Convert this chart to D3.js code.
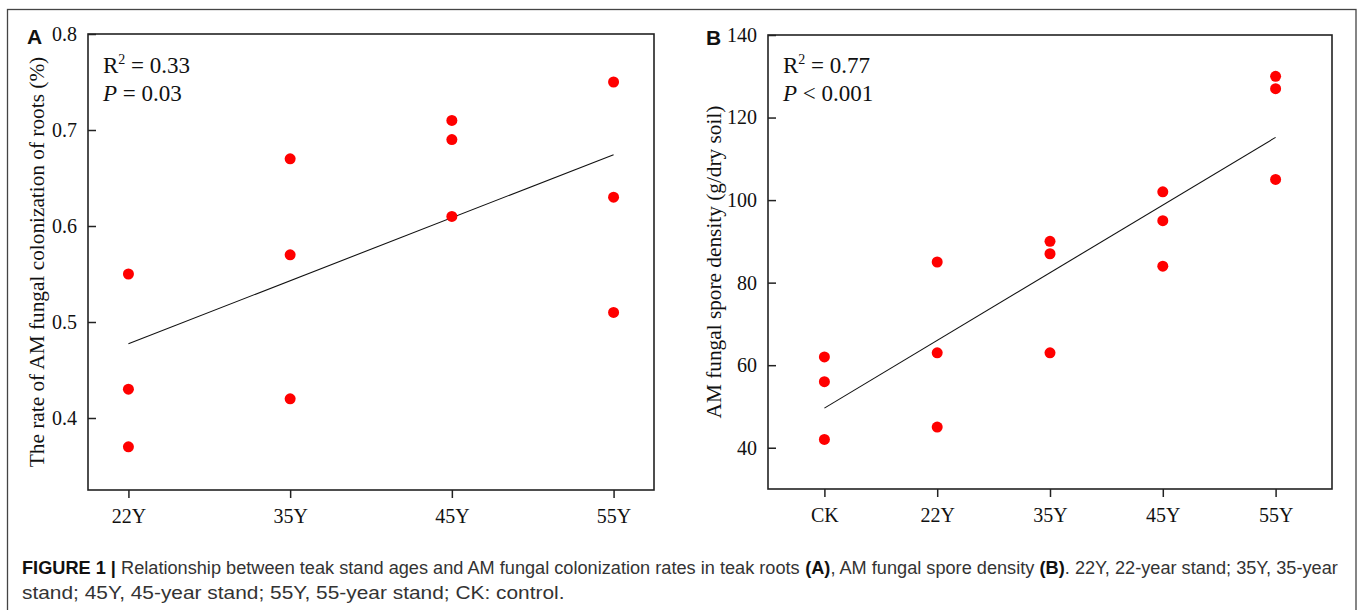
<!DOCTYPE html>
<html>
<head>
<meta charset="utf-8">
<script src="https://cdn.jsdelivr.net/npm/d3@7"></script>
<style>
  html, body { margin: 0; padding: 0; background: #fff; }
  svg { display: block; }
</style>
</head>
<body>
<svg id="chart" width="1357" height="610"></svg>
<script>
// ---- Data ----
const catsA = ["22Y", "35Y", "45Y", "55Y"];
const valsA = [[0.55, 0.43, 0.37], [0.67, 0.57, 0.42], [0.71, 0.69, 0.61], [0.75, 0.63, 0.51]];
const yTicksA = [0.4, 0.5, 0.6, 0.7, 0.8];
const statsA = ["0.33", "= 0.03"];
const titleA = "The rate of AM fungal colonization of roots (%)";

const catsB = ["CK", "22Y", "35Y", "45Y", "55Y"];
const valsB = [[62, 56, 42], [85, 63, 45], [90, 87, 63], [102, 95, 84], [130, 127, 105]];
const yTicksB = [40, 60, 80, 100, 120, 140];
const statsB = ["0.77", "< 0.001"];
const titleB = "AM fungal spore density (g/dry soil)";

const captionLine1 = [
  {t: "FIGURE 1 | ", b: true},
  {t: "Relationship between teak stand ages and AM fungal colonization rates in teak roots ", b: false},
  {t: "(A)", b: true},
  {t: ", AM fungal spore density ", b: false},
  {t: "(B)", b: true},
  {t: ". 22Y, 22-year stand; 35Y, 35-year", b: false}
];
const captionLine2 = [{t: "stand; 45Y, 45-year stand; 55Y, 55-year stand; CK: control.", b: false}];

// ---- Drawing ----
const svg = d3.select("#chart");
const serif = "'Liberation Serif', 'Times New Roman', serif";
const sans = "'Liberation Sans Narrow', 'Arial Narrow', 'Liberation Sans', Arial, sans-serif";

// outer frame
svg.append("rect").attr("x", 7.5).attr("y", 9.5).attr("width", 1348.5).attr("height", 640)
  .attr("fill", "none").attr("stroke", "#444").attr("stroke-width", 1.3);

function panel(cfg) {
  const g = svg.append("g");
  const x = d3.scalePoint().domain(cfg.cats).range([cfg.left, cfg.right]).padding(cfg.pad);
  const y = d3.scaleLinear().domain(cfg.yDomain).range([cfg.bottom, cfg.top]);

  // points
  const pts = [];
  cfg.vals.forEach((arr, i) => arr.forEach(v => pts.push({c: cfg.cats[i], i, v})));

  // regression line (least squares on category index)
  const mx = d3.mean(pts, d => d.i), my = d3.mean(pts, d => d.v);
  const sxy = d3.sum(pts, d => (d.i - mx) * (d.v - my));
  const sxx = d3.sum(pts, d => (d.i - mx) * (d.i - mx));
  const slope = sxy / sxx, icpt = my - slope * mx;
  const i0 = 0, i1 = cfg.cats.length - 1;
  g.append("line")
    .attr("x1", x(cfg.cats[i0])).attr("y1", y(icpt + slope * i0))
    .attr("x2", x(cfg.cats[i1])).attr("y2", y(icpt + slope * i1))
    .attr("stroke", "#111").attr("stroke-width", 1.1);

  g.selectAll("circle.pt").data(pts).enter().append("circle")
    .attr("class", "pt")
    .attr("cx", d => x(d.c)).attr("cy", d => y(d.v)).attr("r", 5.5)
    .attr("fill", "#ff0000");

  // axes
  const ya = g.append("g").attr("transform", `translate(${cfg.left},0)`)
    .call(d3.axisLeft(y).tickValues(cfg.yTicks).tickFormat(cfg.fmt).tickSize(-8).tickPadding(11));
  const xa = g.append("g").attr("transform", `translate(0,${cfg.bottom})`)
    .call(d3.axisBottom(x).tickSize(8).tickPadding(11));
  [ya, xa].forEach(a => {
    a.select(".domain").remove();
    a.selectAll("line").attr("stroke", "#222").attr("stroke-width", 1.5);
    a.selectAll("text").attr("font-family", serif).attr("font-size", 20).attr("fill", "#111");
  });

  // box
  g.append("rect").attr("x", cfg.left).attr("y", cfg.top)
    .attr("width", cfg.right - cfg.left).attr("height", cfg.bottom - cfg.top)
    .attr("fill", "none").attr("stroke", "#222").attr("stroke-width", 1.6);

  // y title
  g.append("text")
    .attr("transform", `translate(${cfg.titleX},${(cfg.top + cfg.bottom) / 2}) rotate(-90)`)
    .attr("text-anchor", "middle").attr("dominant-baseline", "central")
    .attr("font-family", serif).attr("font-size", 21.3).attr("fill", "#111")
    .text(cfg.title);

  // panel letter
  g.append("text").attr("x", cfg.letterX).attr("y", cfg.top + 10)
    .attr("font-family", "'Liberation Sans', Arial, sans-serif").attr("font-weight", "bold")
    .attr("font-size", 21).attr("fill", "#111").text(cfg.letter);

  // stats
  const t1 = g.append("text").attr("x", cfg.left + 15).attr("y", 73)
    .attr("font-family", serif).attr("font-size", 23).attr("fill", "#111");
  t1.append("tspan").text("R");
  t1.append("tspan").attr("font-size", 14).attr("dy", -9).text("2");
  t1.append("tspan").attr("dy", 9).text(" = " + cfg.stats[0]);
  const t2 = g.append("text").attr("x", cfg.left + 15).attr("y", 101)
    .attr("font-family", serif).attr("font-size", 23).attr("fill", "#111");
  t2.append("tspan").attr("font-style", "italic").text("P");
  t2.append("tspan").text(" " + cfg.stats[1]);
}

panel({cats: catsA, vals: valsA, yTicks: yTicksA, yDomain: [0.325, 0.8],
  left: 88, right: 654, top: 34, bottom: 490, pad: 0.25,
  fmt: d3.format(".1f"), title: titleA, titleX: 37, letter: "A", letterX: 27, stats: statsA});

panel({cats: catsB, vals: valsB, yTicks: yTicksB, yDomain: [30, 140],
  left: 768, right: 1332, top: 35, bottom: 489, pad: 0.5,
  fmt: d3.format("d"), title: titleB, titleX: 714, letter: "B", letterX: 706, stats: statsB});

// caption: consecutive text pieces, then horizontally condensed to the target width
function captionLine(parts, yPos, len) {
  const g = svg.append("g");
  let cx = 0;
  parts.forEach(p => {
    const t = g.append("text").attr("x", cx).attr("y", 0)
      .attr("font-family", sans).attr("font-size", 18.5)
      .attr("font-weight", p.b ? "bold" : "normal")
      .attr("fill", p.b ? "#111" : "#333")
      .attr("xml:space", "preserve").style("white-space", "pre")
      .text(p.t);
    cx += t.node().getComputedTextLength();
  });
  const sx = len / cx;
  g.attr("transform", `translate(22,${yPos}) scale(${sx},1)`);
}
captionLine(captionLine1, 574, 1316);
captionLine(captionLine2, 599, 543);
</script>
</body>
</html>
